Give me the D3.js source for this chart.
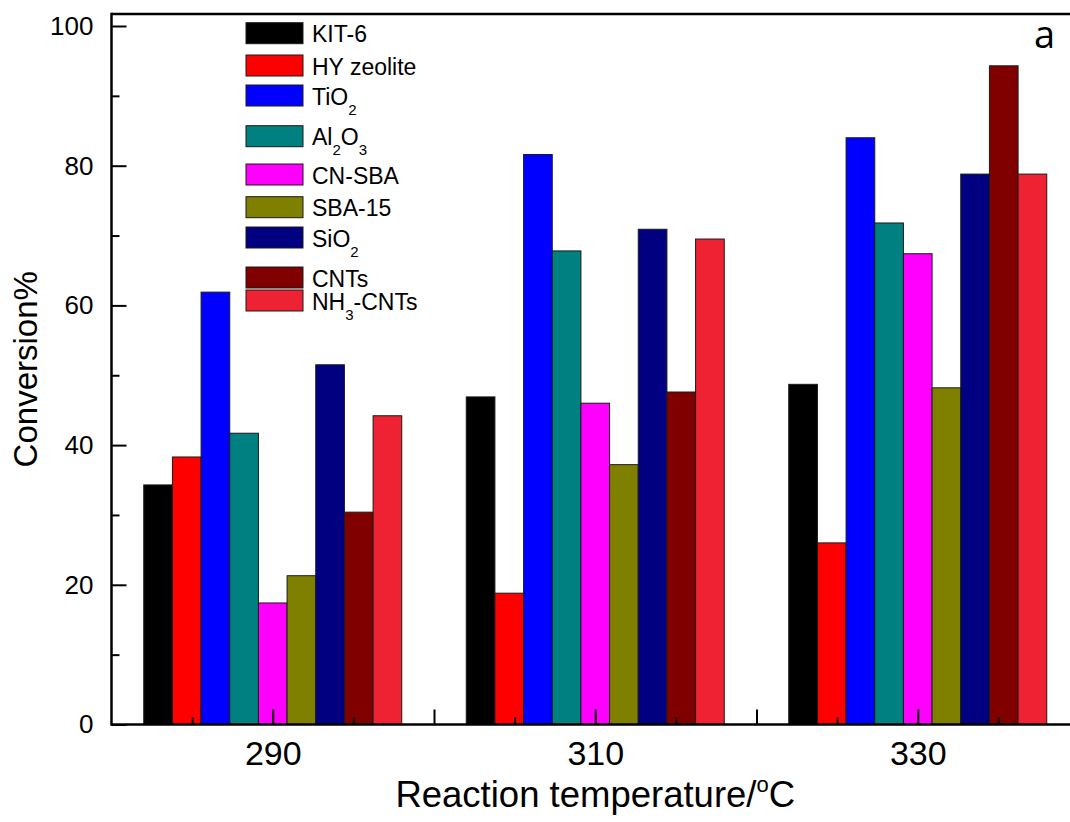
<!DOCTYPE html>
<html>
<head>
<meta charset="utf-8">
<script src="https://cdn.jsdelivr.net/npm/d3@7"></script>
<style>
  body { margin: 0; background: #fff; }
  svg { display: block; }
  text { font-family: Arial, "Liberation Sans", sans-serif; fill: #000; }
</style>
</head>
<body>
<div id="chart"></div>
<script>
const WIDTH = 1070
const HEIGHT = 822

// data
const temperatures = [290, 310, 330]
const catalysts = ["KIT-6", "HY zeolite", "TiO_2", "Al_2O_3", "CN-SBA", "SBA-15", "SiO_2", "CNTs", "NH_3-CNTs"]
const colors = ["#000000", "#ff0000", "#0000ff", "#008080", "#ff00ff", "#808000", "#000080", "#800000", "#ee2233"]
const conv290 = [34.3, 38.3, 61.9, 41.7, 17.4, 21.3, 51.5, 30.4, 44.2]
const conv310 = [46.9, 18.8, 81.6, 67.8, 46.0, 37.2, 70.9, 47.6, 69.5]
const conv330 = [48.7, 26.0, 84.0, 71.8, 67.4, 48.2, 78.8, 94.3, 78.8]
const yTicks = [0, 20, 40, 60, 80, 100]
const xTickLabels = [290, 310, 330]

const seriesByTemp = [conv290, conv310, conv330]

// layout
const plotLeft = 111.5, plotTop = 14, plotBottom = 724.5

const x = d3.scaleLinear().domain([280, 340]).range([plotLeft, plotLeft + 60 * 16.125])
const y = d3.scaleLinear().domain([0, 100]).range([plotBottom, 26])

const groupWidth = 16 // in temperature units
const band = d3.scaleBand()
    .domain(d3.range(catalysts.length))
    .range([-groupWidth / 2, groupWidth / 2])
    .padding(0)

const svg = d3.select("#chart").append("svg")
    .attr("width", WIDTH)
    .attr("height", HEIGHT)

// bars
const rows = []
temperatures.forEach((t, ti) => {
    seriesByTemp[ti].forEach((v, i) => rows.push({ t, i, v }))
})

svg.append("g")
    .selectAll("rect")
    .data(rows)
    .join("rect")
    .attr("x", d => x(d.t + band(d.i)))
    .attr("width", d => x(d.t + band(d.i) + band.bandwidth()) - x(d.t + band(d.i)))
    .attr("y", d => y(d.v))
    .attr("height", d => y(0) - y(d.v))
    .attr("fill", d => colors[d.i])
    .attr("stroke", "#1a1a1a")
    .attr("stroke-width", 1)

// axes frame
svg.append("line")
    .attr("x1", plotLeft).attr("x2", WIDTH)
    .attr("y1", plotTop).attr("y2", plotTop)
    .attr("stroke", "#000").attr("stroke-width", 2.5)

// y axis
const yAxis = svg.append("g")
    .attr("transform", `translate(${plotLeft},0)`)
    .call(d3.axisLeft(y).tickValues(yTicks).tickSize(-15).tickFormat(d3.format("d")))
yAxis.append("g")
    .call(d3.axisLeft(y).tickValues([10, 30, 50, 70, 90]).tickSize(-8).tickFormat(""))
yAxis.selectAll(".domain").remove()
yAxis.selectAll("line").attr("stroke", "#000").attr("stroke-width", 2)
yAxis.selectAll("text")
    .attr("x", -18)
    .style("font-size", "26px")
    .style("font-family", "Arial, 'Liberation Sans', sans-serif")
svg.append("line")
    .attr("x1", plotLeft).attr("x2", plotLeft)
    .attr("y1", plotTop - 1.2).attr("y2", plotBottom + 1.2)
    .attr("stroke", "#000").attr("stroke-width", 2.5)

// x axis
const xAxis = svg.append("g")
    .attr("transform", `translate(0,${plotBottom})`)
xAxis.call(d3.axisBottom(x).tickValues([290, 300, 310, 320, 330, 340]).tickSize(-15)
    .tickFormat(d => xTickLabels.includes(d) ? d : ""))
xAxis.append("g")
    .call(d3.axisBottom(x).tickValues([285, 295, 305, 315, 325, 335]).tickSize(-7).tickFormat(""))
xAxis.selectAll(".domain").remove()
xAxis.selectAll("line").attr("stroke", "#000").attr("stroke-width", 2)
xAxis.selectAll("text")
    .attr("y", 16)
    .attr("dy", "0.71em")
    .style("font-size", "34px")
    .style("font-family", "Arial, 'Liberation Sans', sans-serif")
svg.append("line")
    .attr("x1", plotLeft).attr("x2", WIDTH)
    .attr("y1", plotBottom).attr("y2", plotBottom)
    .attr("stroke", "#000").attr("stroke-width", 2.5)

// axis titles
svg.append("text")
    .attr("transform", `translate(37,${(plotTop + plotBottom) / 2}) rotate(-90)`)
    .attr("text-anchor", "middle")
    .style("font-size", "33px")
    .text("Conversion%")

const xTitle = svg.append("text")
    .attr("x", (plotLeft + x(340)) / 2)
    .attr("y", 807)
    .attr("text-anchor", "middle")
    .style("font-size", "36.5px")
xTitle.append("tspan").text("Reaction temperature/")
xTitle.append("tspan").attr("dy", -15).style("font-size", "22px").text("o")
xTitle.append("tspan").attr("dy", 15).text("C")

// panel letter
svg.append("text")
    .attr("x", 1034)
    .attr("y", 48)
    .style("font-family", "'Open Sans', sans-serif")
    .style("font-size", "38px")
    .text("a")

// legend
const legendTop = [22.7, 55, 85, 125.7, 164, 196.7, 227, 267, 290]
const legend = svg.append("g")
    .selectAll("g")
    .data(catalysts)
    .join("g")
    .attr("transform", (d, i) => `translate(246,${legendTop[i]})`)

legend.append("rect")
    .attr("width", 57)
    .attr("height", 21)
    .attr("fill", (d, i) => colors[i])
    .attr("stroke", "#1a1a1a")
    .attr("stroke-width", 1)

legend.append("text")
    .attr("x", 66)
    .attr("y", 19.5)
    .style("font-size", "23px")
    .each(function (d) {
        const t = d3.select(this)
        const parts = d.split(/_(\d)/)
        parts.forEach((p, k) => {
            if (!p) return
            if (k % 2 === 1) {
                t.append("tspan").attr("dy", 10).style("font-size", "15px").text(p)
            } else {
                t.append("tspan").attr("dy", k > 0 ? -10 : 0).text(p)
            }
        })
    })
</script>
</body>
</html>
